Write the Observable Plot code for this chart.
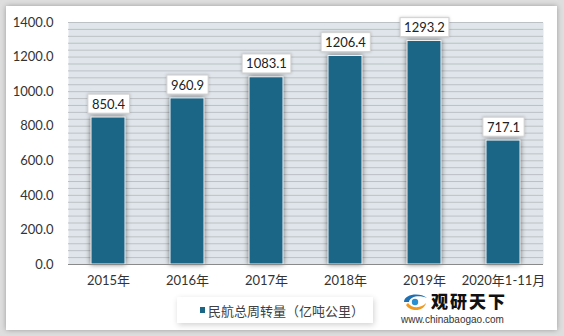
<!DOCTYPE html>
<html><head><meta charset="utf-8">
<script src="https://cdn.jsdelivr.net/npm/d3@7"></script>
<script src="https://cdn.jsdelivr.net/npm/@observablehq/plot@0.6"></script>
<style>
body{margin:0;}
#wrap{position:relative;width:564px;height:336px;background:#dedede;overflow:hidden;font-family:Lato,"Noto Sans CJK SC",sans-serif;}
#card{position:absolute;left:6px;top:6px;width:551px;height:324px;background:#fff;box-shadow:0 0 5px rgba(0,0,0,.3);}
#chart{position:absolute;left:0;top:0;}
#legend{position:absolute;left:177px;top:297px;width:196px;height:26px;background:#fff;box-shadow:1px 2px 6px rgba(0,0,0,.18);display:flex;align-items:center;font-size:13px;color:#404040;font-family:"Noto Sans CJK SC",sans-serif;white-space:nowrap;}
#legend .sw{width:5px;height:6px;background:#1b6587;margin-left:23px;margin-right:3px;}
#wm{position:absolute;left:400px;top:290px;width:130px;height:38px;white-space:nowrap;}
#wm .t{position:absolute;left:31px;top:1px;font-size:17px;font-weight:900;color:#111;font-family:"Noto Sans CJK SC",sans-serif;letter-spacing:2px;line-height:20px;}
#wm .u{position:absolute;left:1px;top:24px;font-size:10px;color:#333;font-family:"Liberation Sans",Arial,sans-serif;line-height:11px;}
#wm svg{position:absolute;left:0;top:1px;}
</style></head>
<body>
<div id="wrap">
  <div id="card"></div>
  <div id="chart"></div>
  <div id="legend"><div class="sw"></div><span>民航总周转量（亿吨公里）</span></div>
  <div id="wm">
    <svg width="30" height="22" viewBox="0 0 30 22">
      <path d="M4 11 C4 3, 20 1, 27 7 C20 4, 10 5, 9 11 Z" fill="#1f6fb3"/>
      <path d="M6 14 C10 21, 24 21, 26 12 C22 17, 12 18, 8 12 Z" fill="#f29a1e"/>
      <circle cx="15" cy="11" r="3.2" fill="#2a8fd0"/>
    </svg>
    <div class="t">观研天下</div>
    <div class="u">www.chinabaogao.com</div>
  </div>
</div>
<script>
const years = ["2015年","2016年","2017年","2018年","2019年","2020年1-11月"];
const values = [850.4, 960.9, 1083.1, 1206.4, 1293.2, 717.1];
const yTicks = [0, 200, 400, 600, 800, 1000, 1200, 1400];
const gridLines = d3.range(0, 1401, 40);

const data = years.map((y, i) => ({year: y, value: values[i]}));

const chart = Plot.plot({
  width: 564,
  height: 290,
  marginLeft: 68,
  marginRight: 21,
  marginTop: 22,
  marginBottom: 26,
  style: {background: "transparent", fontFamily: "Lato, 'Noto Sans CJK SC', sans-serif", fontSize: "13px", color: "#333"},
  x: {domain: years, paddingInner: 0.57, paddingOuter: 0.285, tickSize: 0, tickPadding: 11, label: null},
  y: {domain: [0, 1400], ticks: yTicks, tickFormat: d => d.toFixed(1), tickSize: 0, tickPadding: 15, label: null},
  marks: [
    Plot.frame({fill: "#dfe5ea", stroke: null}),
    Plot.ruleY(gridLines, {stroke: "#bcc1c6", strokeWidth: 1}),
    Plot.barY(data, {x: "year", y: "value", fill: "#1b6587", stroke: "#f4f4f4", strokeWidth: 1}),
    Plot.ruleY([0], {stroke: "#8a8a8a", strokeWidth: 1}),
    Plot.text(data, {x: "year", y: "value", text: d => d.value.toFixed(1), dy: -13, fontSize: 13, fill: "#222"})
  ]
});
document.getElementById("chart").appendChild(chart);

const svg = d3.select(chart);
svg.selectAll('g[aria-label="bar"]').style("filter", "drop-shadow(0px 0px 2.5px rgba(0,0,0,0.55))");
svg.selectAll('g[aria-label="text"] text').each(function() {
  const b = this.getBBox();
  const r = document.createElementNS("http://www.w3.org/2000/svg", "rect");
  r.setAttribute("x", b.x - 4);
  r.setAttribute("y", b.y - 1.5);
  r.setAttribute("width", b.width + 8);
  r.setAttribute("height", b.height + 3);
  r.setAttribute("fill", "#fff");
  r.setAttribute("stroke", "#d2d2d2");
  r.setAttribute("stroke-width", "1");
  r.style.filter = "drop-shadow(0px 0px 1.5px rgba(0,0,0,0.2))";
  const tr = this.getAttribute("transform");
  if (tr) r.setAttribute("transform", tr);
  this.parentNode.insertBefore(r, this);
});
</script>
</body></html>
